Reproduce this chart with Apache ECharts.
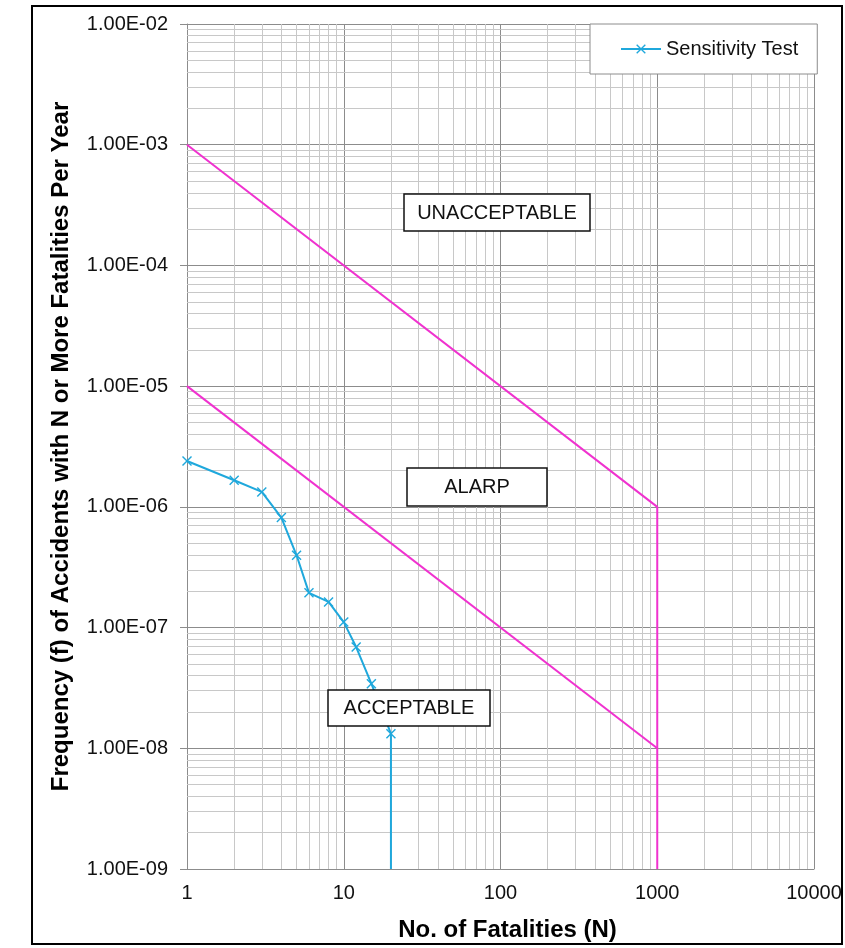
<!DOCTYPE html>
<html>
<head>
<meta charset="utf-8">
<title>F-N Curve</title>
<script src="https://cdn.jsdelivr.net/npm/echarts@6/dist/echarts.min.js"></script>
<style>
  html, body { margin: 0; padding: 0; background: #fff; }
  #main { width: 845px; height: 948px; }
</style>
</head>
<body>
<div id="main"></div>
<script>
// sensitivity test F-N points
var sensN = [1, 2, 3, 4, 5, 6, 8, 10, 12, 15, 20, 20];
var sensF = [2.4e-6, 1.66e-6, 1.33e-6, 8.15e-7, 3.97e-7, 1.94e-7, 1.63e-7, 1.11e-7, 6.9e-8, 3.43e-8, 1.32e-8, 1e-9];

// criterion lines (upper / lower)
var upperN = [1, 1000, 1000];
var upperF = [1e-3, 1e-6, 1e-9];
var lowerN = [1, 1000];
var lowerF = [1e-5, 1e-8];

// axis ranges
var xMin = 1, xMax = 10000;
var yMin = 1e-9, yMax = 1e-2;

var FONT = '"Liberation Sans", Arial, sans-serif';
var PINK = '#f032cf';
var BLUE = '#1fa8dc';

function pairs(xs, ys) {
    var out = [];
    for (var i = 0; i < xs.length; i++) out.push([xs[i], ys[i]]);
    return out;
}

// log minor grid: 2..9 in every decade
function minorValues(lo, hi) {
    var vals = [];
    for (var d = lo; d < hi; d *= 10) {
        for (var k = 2; k <= 9; k++) vals.push(k * d);
    }
    return vals;
}

function sciLabel(v) {
    var s = v.toExponential(2).toUpperCase();   // e.g. 1.00E-2
    var parts = s.split('E');
    var e = parseInt(parts[1], 10);
    var sign = e < 0 ? '-' : '+';
    var a = Math.abs(e);
    return parts[0] + 'E' + sign + (a < 10 ? '0' + a : a);
}

var minorLines = [];
minorValues(xMin, xMax).forEach(function (v) {
    minorLines.push([{ coord: [v, yMin] }, { coord: [v, yMax] }]);
});
minorValues(yMin, yMax).forEach(function (v) {
    minorLines.push([{ coord: [xMin, v] }, { coord: [xMax, v] }]);
});

var crossSymbol = 'path://M0,1L1,0L5,4L9,0L10,1L6,5L10,9L9,10L5,6L1,10L0,9L4,5Z';

var sensData = pairs(sensN, sensF).map(function (p, i) {
    // last point only carries the drop to the axis
    if (i === sensN.length - 1) return { value: p, symbol: 'none' };
    return p;
});

var chart = echarts.init(document.getElementById('main'));

var option = {
    backgroundColor: '#fff',
    animation: false,
    textStyle: { fontFamily: FONT },
    grid: { left: 187, right: 31, top: 24, bottom: 79, containLabel: false },
    legend: {
        data: ['Sensitivity Test'],
        left: 590,
        top: 24,
        z: 20,
        orient: 'horizontal',
        backgroundColor: '#fff',
        borderColor: '#8c8c8c',
        borderWidth: 1,
        padding: [15, 19, 15, 30],
        itemWidth: 40,
        itemHeight: 12,
        itemGap: 5,
        textStyle: { fontFamily: FONT, fontSize: 20, color: '#111' }
    },
    xAxis: {
        type: 'log',
        logBase: 10,
        min: xMin,
        max: xMax,
        splitNumber: 4,
        name: 'No. of Fatalities (N)',
        nameLocation: 'middle',
        nameGap: 49,
        nameTextStyle: { fontFamily: FONT, fontSize: 24, fontWeight: 'bold', color: '#000', padding: [0, 0, 0, 14] },
        axisLine: { lineStyle: { color: '#8c8c8c', width: 1 } },
        axisTick: { show: false },
        axisLabel: {
            margin: 14,
            fontSize: 20,
            color: '#111',
            fontFamily: FONT,
            formatter: function (v) { return String(Math.round(v)); }
        },
        splitLine: { show: true, lineStyle: { color: '#8c8c8c', width: 1 } }
    },
    yAxis: {
        type: 'log',
        logBase: 10,
        min: yMin,
        max: yMax,
        splitNumber: 7,
        name: 'Frequency (f) of Accidents with N or More Fatalities Per Year',
        nameLocation: 'middle',
        nameGap: 114,
        nameTextStyle: { fontFamily: FONT, fontSize: 24, fontWeight: 'bold', color: '#000' },
        axisLine: { show: true, lineStyle: { color: '#8c8c8c', width: 1 } },
        axisTick: { show: true, inside: false, length: 7, lineStyle: { color: '#8c8c8c' } },
        axisLabel: {
            margin: 19,
            fontSize: 20,
            color: '#111',
            fontFamily: FONT,
            formatter: sciLabel
        },
        splitLine: { show: true, lineStyle: { color: '#8c8c8c', width: 1 } }
    },
    series: [
        {
            // minor grid lines
            type: 'line',
            data: [],
            silent: true,
            z: 1,
            markLine: {
                silent: true,
                z: 1,
                symbol: ['none', 'none'],
                label: { show: false },
                lineStyle: { color: '#c8c8c8', type: 'solid', width: 1 },
                emphasis: { disabled: true },
                animation: false,
                data: minorLines
            }
        },
        {
            type: 'line',
            data: pairs(upperN, upperF),
            showSymbol: false,
            symbol: 'none',
            silent: true,
            lineStyle: { color: PINK, width: 2 },
            z: 3
        },
        {
            type: 'line',
            data: pairs(lowerN, lowerF),
            showSymbol: false,
            symbol: 'none',
            silent: true,
            lineStyle: { color: PINK, width: 2 },
            z: 3
        },
        {
            name: 'Sensitivity Test',
            type: 'line',
            data: sensData,
            symbol: crossSymbol,
            symbolSize: 10,
            itemStyle: { color: BLUE },
            lineStyle: { color: BLUE, width: 2 },
            z: 4
        }
    ],
    graphic: [
        // outer frame
        {
            type: 'rect', z: 100, silent: true,
            shape: { x: 32, y: 6, width: 810, height: 938 },
            style: { fill: 'none', stroke: '#000', lineWidth: 2 }
        },
        // region labels
        {
            type: 'rect', z: 100, silent: true,
            shape: { x: 404, y: 194, width: 186, height: 37 },
            style: { fill: '#fff', stroke: '#111', lineWidth: 1.5 }
        },
        {
            type: 'text', z: 101, silent: true, x: 497, y: 213,
            style: { text: 'UNACCEPTABLE', font: '20px ' + FONT, fill: '#111', align: 'center', verticalAlign: 'middle' }
        },
        {
            type: 'rect', z: 100, silent: true,
            shape: { x: 407, y: 468, width: 140, height: 38 },
            style: { fill: '#fff', stroke: '#111', lineWidth: 1.5 }
        },
        {
            type: 'text', z: 101, silent: true, x: 477, y: 487,
            style: { text: 'ALARP', font: '20px ' + FONT, fill: '#111', align: 'center', verticalAlign: 'middle' }
        },
        {
            type: 'rect', z: 100, silent: true,
            shape: { x: 328, y: 690, width: 162, height: 36 },
            style: { fill: '#fff', stroke: '#111', lineWidth: 1.5 }
        },
        {
            type: 'text', z: 101, silent: true, x: 409, y: 708,
            style: { text: 'ACCEPTABLE', font: '20px ' + FONT, fill: '#111', align: 'center', verticalAlign: 'middle' }
        }
    ]
};

chart.setOption(option);
</script>
</body>
</html>
